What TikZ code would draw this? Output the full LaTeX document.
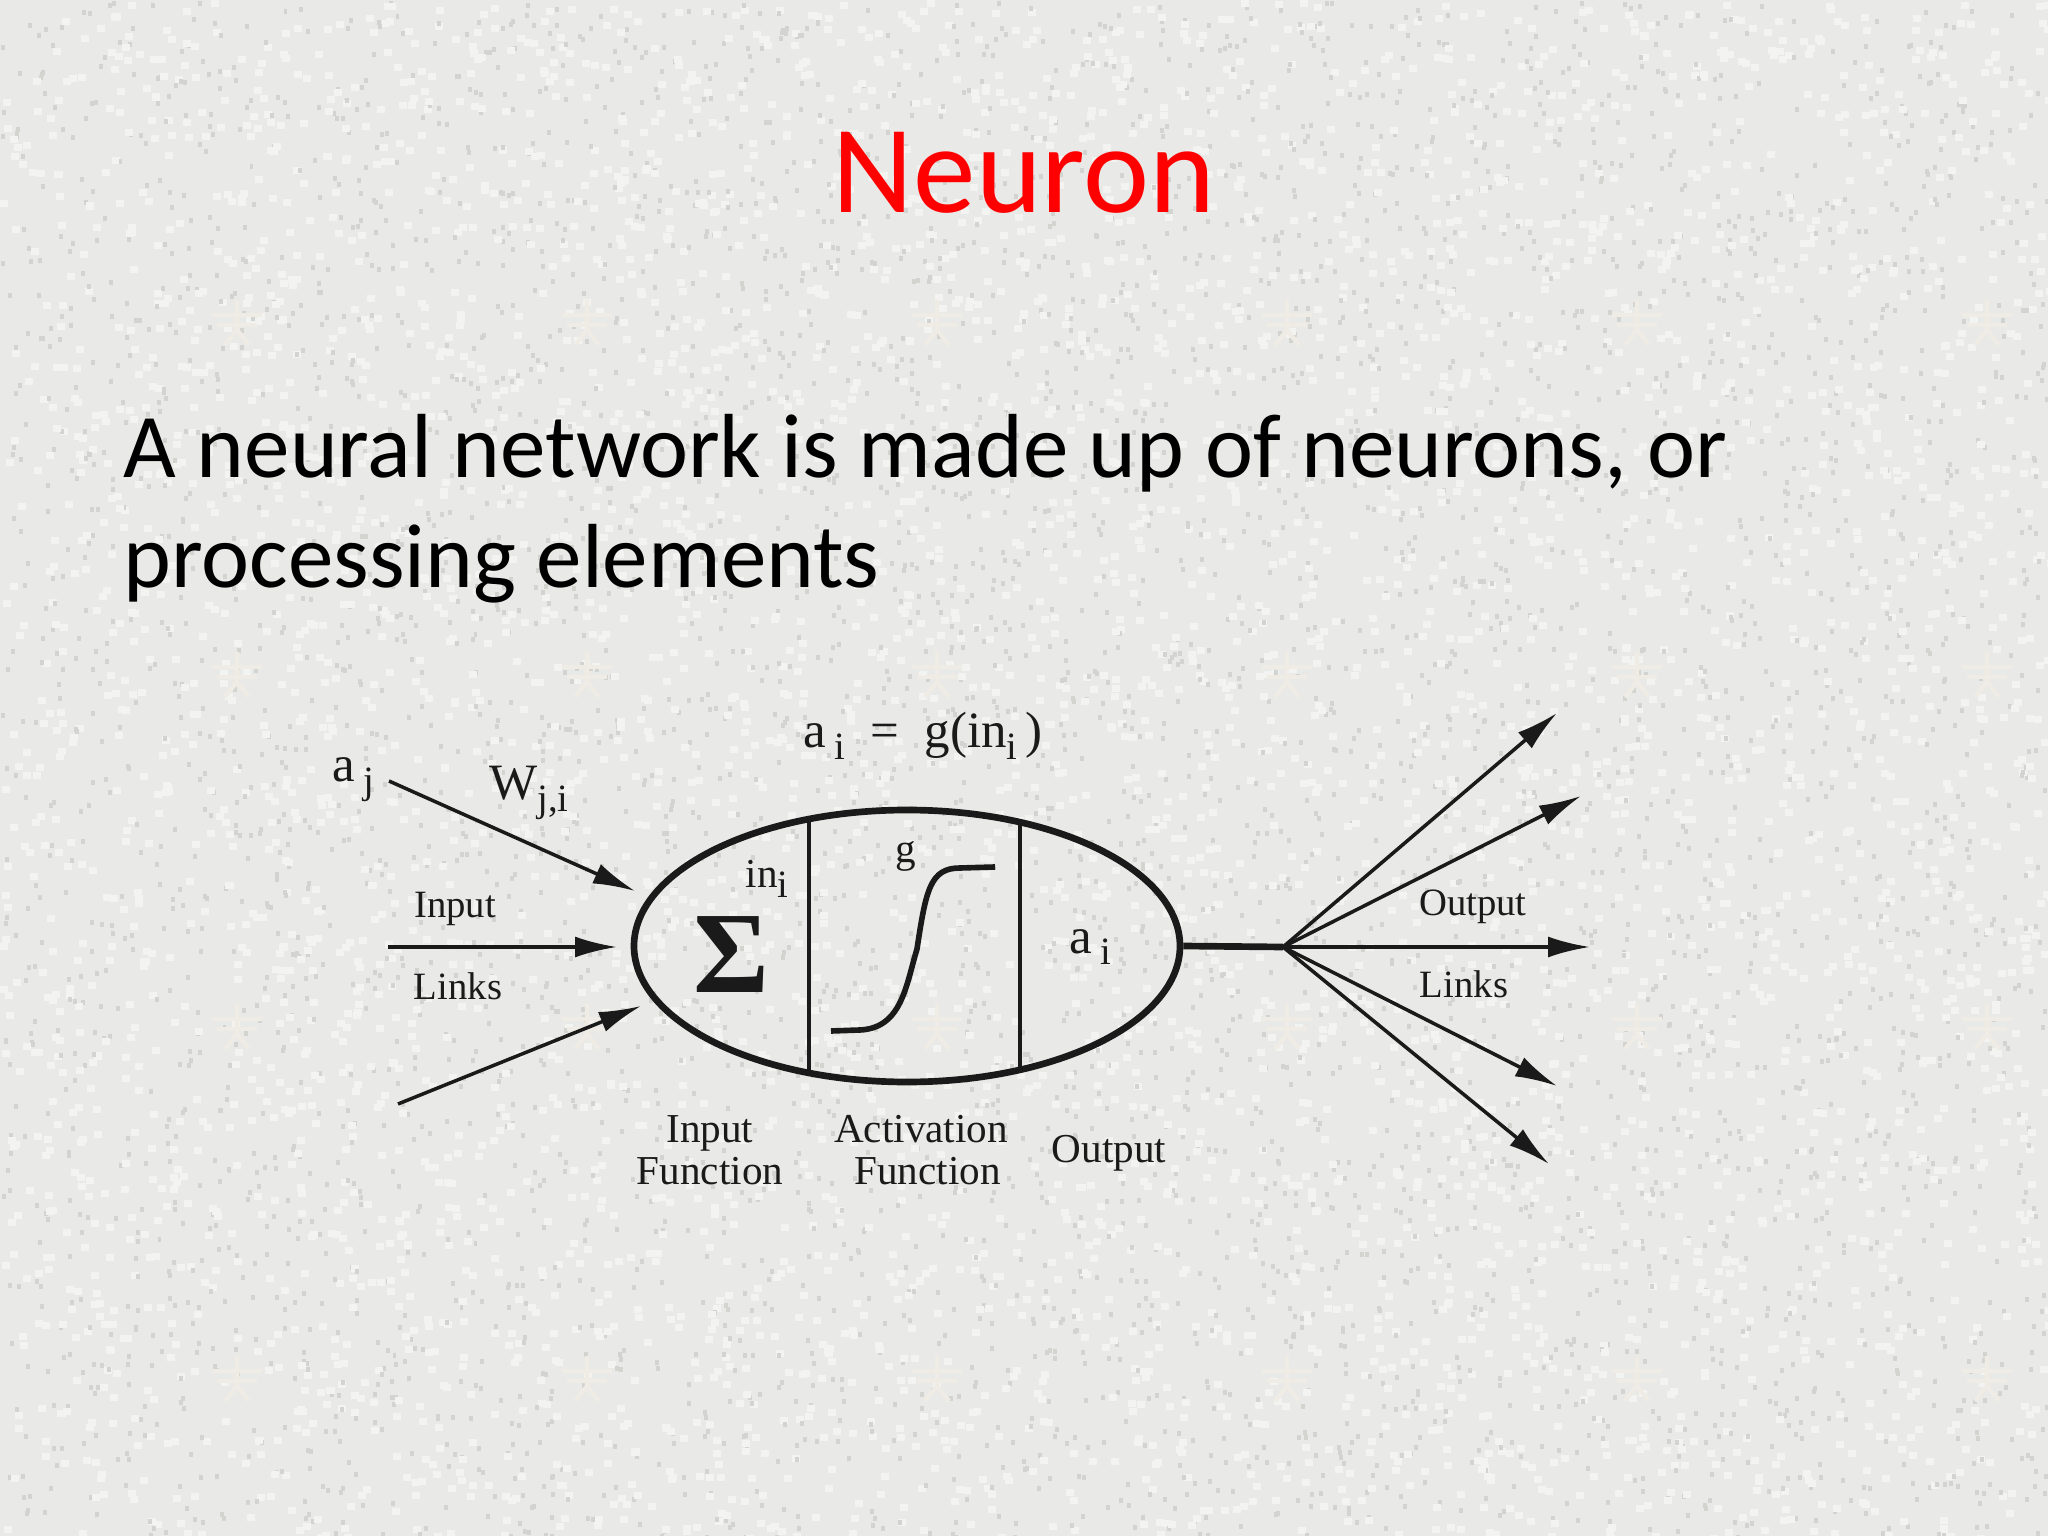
\documentclass[tikz,border=0pt]{standalone}
\usepackage{fontspec}
\setmainfont{Liberation Serif}
\newfontfamily\slidefont{Carlito}
\usetikzlibrary{shapes,arrows.meta,calc}
\definecolor{paper}{HTML}{E9E9E7}
\definecolor{speck}{HTML}{D3D3D0}
\definecolor{glint}{HTML}{F3F3F1}
\definecolor{faintmark}{HTML}{EFECE5}
\definecolor{ink}{HTML}{1A1A1A}
\tikzstyle{line} = [draw=ink, line width=1pt, -{Latex[length=4.2mm,width=2.1mm]}]
\tikzstyle{stem} = [draw=ink, line width=1.9pt]
\tikzstyle{divider} = [draw=ink, line width=1.1pt]
\tikzstyle{tag} = [font=\fontsize{11.7}{12}\selectfont, text=ink, inner sep=0pt, align=center]
\tikzstyle{linktag} = [font=\fontsize{11}{12}\selectfont, text=ink, inner sep=0pt]
\tikzstyle{symbol} = [font=\fontsize{14.5}{15}\selectfont, text=ink, inner sep=0pt]
\tikzstyle{wmark} = [draw=faintmark, line width=1.2pt]
\newcommand{\lowtxt}[1]{\raisebox{-0.5ex}{\fontsize{11}{11}\selectfont #1}}

\begin{document}
\begin{tikzpicture}[x=1cm, y=-1cm]
        \useasboundingbox (0,0) rectangle (20.48,15.36);
        \clip (0,0) rectangle (20.48,15.36);
        \fill[paper] (0,0) rectangle (20.48,15.36);
        \pgfmathsetseed{7}
        % speckle of the slide background
        \foreach \n in {1,...,5000} {
            \pgfmathsetmacro{\xa}{rnd*20.48}
            \pgfmathsetmacro{\ya}{rnd*15.36}
            \fill[speck] (\xa,\ya) rectangle +(0.04,0.05);
            \pgfmathsetmacro{\xb}{rnd*20.48}
            \pgfmathsetmacro{\yb}{rnd*15.36}
            \fill[glint] (\xb,\yb) rectangle +(0.08,0.07);
        }
        % faint marks of the tiled background
        \foreach \tx in {2.37,5.87,9.37,12.87,16.37,19.87} {
            \foreach \ty in {3.20,6.72,10.24,13.76} {
                \draw[wmark] (\tx-0.25,\ty-0.05) -- (\tx+0.25,\ty-0.05) (\tx-0.2,\ty+0.05) -- (\tx+0.2,\ty+0.05);
                \draw[wmark] (\tx,\ty-0.2) -- (\tx,\ty+0.1) (\tx-0.12,\ty+0.25) -- (\tx,\ty+0.1) -- (\tx+0.12,\ty+0.25);
            }
        }
        \node[text=red, font=\slidefont\fontsize{35.6}{40}\selectfont, inner sep=0pt] (title) at (10.24,1.73) {Neuron};
        \node[anchor=base west, font=\slidefont\fontsize{25.9}{31}\selectfont, inner sep=0pt] (bodya) at (1.23,4.78) {A neural network is made up of neurons, or};
        \node[anchor=base west, font=\slidefont\fontsize{25.9}{31}\selectfont, inner sep=0pt] (bodyb) at (1.23,5.88) {processing elements};

        \node[draw=ink, line width=1.9pt, ellipse, minimum width=5.46cm, minimum height=2.72cm, inner sep=0pt] (cell) at (9.07,9.46) {};
        \coordinate (inupper) at (3.89,7.81);
        \coordinate (inmid) at (3.88,9.47);
        \coordinate (inlower) at (3.98,11.04);
        \coordinate (inupperend) at (6.35,8.91);
        \coordinate (inmidend) at (6.17,9.47);
        \coordinate (inlowerend) at (6.41,10.06);
        \coordinate (hub) at (12.83,9.47);
        \coordinate (outa) at (15.57,7.13);
        \coordinate (outb) at (15.81,7.96);
        \coordinate (outc) at (15.90,9.47);
        \coordinate (outd) at (15.57,10.86);
        \coordinate (oute) at (15.49,11.64);
        \path[line] (inupper) -- (inupperend);
        \path[line] (inmid) -- (inmidend);
        \path[line] (inlower) -- (inlowerend);
        \path[stem] (cell.east) -- (hub);
        \path[line] (hub) -- (outa);
        \path[line] (hub) -- (outb);
        \path[line] (hub) -- (outc);
        \path[line] (hub) -- (outd);
        \path[line] (hub) -- (oute);

        \coordinate (diva) at (8.09,8.18);
        \coordinate (divb) at (8.09,10.73);
        \coordinate (divc) at (10.20,8.24);
        \coordinate (divd) at (10.20,10.72);
        \path[divider] (diva) -- (divb);
        \path[divider] (divc) -- (divd);
        \coordinate (curvea) at (8.31,10.31);
        \coordinate (curveb) at (9.95,8.67);
        \draw[ink, line width=1.6pt] (curvea) -- (8.60,10.30) .. controls (9.02,10.28) and (9.06,9.85) .. (9.17,9.49) .. controls (9.26,8.9) and (9.30,8.68) .. (9.60,8.68) -- (curveb);

        \node[font=\bfseries\fontsize{33}{33}\selectfont, text=ink, inner sep=0pt] (sigma) at (7.31,9.55) {Σ};
        \node[symbol] (ini) at (7.67,8.79) {\fontsize{11.7}{13}\selectfont in\lowtxt{i}};
        \node[symbol] (gname) at (9.06,8.56) {\fontsize{11.7}{13}\selectfont g};
        \node[symbol] (aout) at (10.90,9.47) {a\,\lowtxt{i}};
        \node[symbol] (aleft) at (3.53,7.80) {a\,\lowtxt{j}};
        \node[symbol] (weight) at (5.29,7.93) {W\lowtxt{j,i}};
        \node[symbol] (rule) at (9.23,7.36) {a\,\lowtxt{i}\ \ =\ \ g(in\lowtxt{i}\,)};
        \node[linktag] (inputtag) at (4.55,9.09) {Input};
        \node[linktag] (linkstag) at (4.58,9.86) {Links};
        \node[linktag] (outputtag) at (14.73,9.07) {Output};
        \node[linktag] (outlinks) at (14.64,9.84) {Links};
        \node[tag] (inputfn) at (7.10,11.50) {Input\\Function};
        \node[tag] (actfn) at (9.21,11.50) {Activation\\\hspace*{0.13cm}Function};
        \node[tag] (outfn) at (11.09,11.53) {Output};
    \end{tikzpicture}
\end{document}
